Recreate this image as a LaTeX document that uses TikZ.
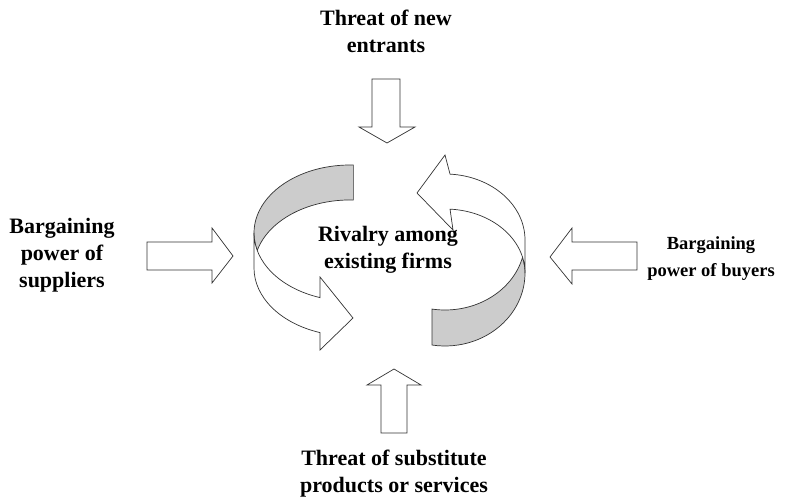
\documentclass[tikz,border=0pt]{standalone}
\usepackage{fontspec}
\setmainfont{Liberation Serif}
\usetikzlibrary{calc}
\tikzset{
  force/.style={font=\fontsize{22}{27}\selectfont\bfseries, align=center, inner sep=0pt},
  smallforce/.style={force, font=\fontsize{18.5}{27}\selectfont\bfseries},
  blockarrow/.style={draw=black!80, fill=white, line width=0.7pt},
  band/.style={draw=black!80, line width=0.7pt},
}
\begin{document}
\begin{tikzpicture}[x=1pt,y=1pt]
  \useasboundingbox (0,0) rectangle (805,499);
  \draw[blockarrow] (372,420) -- (400,420) -- (400,372) -- (415,372) -- (387,356) -- (359,372) -- (372,372) -- cycle;
  \draw[blockarrow] (381,66) -- (407,66) -- (407,114) -- (421,114) -- (394,130) -- (367,114) -- (381,114) -- cycle;
  \draw[blockarrow] (147,229) -- (212,229) -- (212,216) -- (233,243) -- (212,271) -- (212,257) -- (147,257) -- cycle;
  \draw[blockarrow] (637,229) -- (572,229) -- (572,215) -- (550,242) -- (572,271) -- (572,257) -- (637,257) -- cycle;

  \coordinate (lefttop) at (350,266);
  \coordinate (leftbot) at (350,231);
  \filldraw[band, fill=black!20] ($(lefttop)+(88:96pt and 68pt)$)
    arc[start angle=88, end angle=194.9, x radius=96pt, y radius=68pt]
    arc[start angle=165.1, end angle=88, x radius=96pt, y radius=68pt] -- cycle;
  \filldraw[band, fill=white] ($(leftbot)+(180:96pt and 68pt)$) -- ($(lefttop)+(180:96pt and 68pt)$)
    arc[start angle=180, end angle=251.8, x radius=96pt, y radius=68pt]
    -- (320,222) -- (353,181) -- (320,149) -- ($(leftbot)+(251.8:96pt and 68pt)$)
    arc[start angle=251.8, end angle=180, x radius=96pt, y radius=68pt] -- cycle;

  \coordinate (rightbot) at (445,226);
  \coordinate (righttop) at (445,259);
  \filldraw[band, fill=black!20] ($(rightbot)+(260.65:80pt and 73pt)$)
    arc[start angle=260.65, end angle=360, x radius=80pt, y radius=73pt]
    arc[start angle=0, end angle=14.26, x radius=80pt, y radius=64pt]
    arc[start angle=345.74, end angle=260.65, x radius=80pt, y radius=70pt] -- cycle;
  \filldraw[band, fill=white] ($(rightbot)+(0:80pt and 64pt)$) -- ($(righttop)+(0:80pt and 66pt)$)
    arc[start angle=0, end angle=86.4, x radius=80pt, y radius=66pt]
    -- (445,344) -- (417,306) -- (453,269) -- ($(rightbot)+(86.4:80pt and 64pt)$)
    arc[start angle=86.4, end angle=0, x radius=80pt, y radius=64pt] -- cycle;

  \node[force] (entrants) at (386,467.5) {Threat of new\\entrants};
  \node[force] (suppliers) at (62,243.5) {Bargaining\\power of\\suppliers};
  \node[smallforce] (buyers) at (711,240.5) {Bargaining\\power of buyers};
  \node[force] (rivalry) at (388,249) {Rivalry among\\existing firms};
  \node[force] (substitutes) at (394,25.5) {Threat of substitute\\products or services};
\end{tikzpicture}
\end{document}
